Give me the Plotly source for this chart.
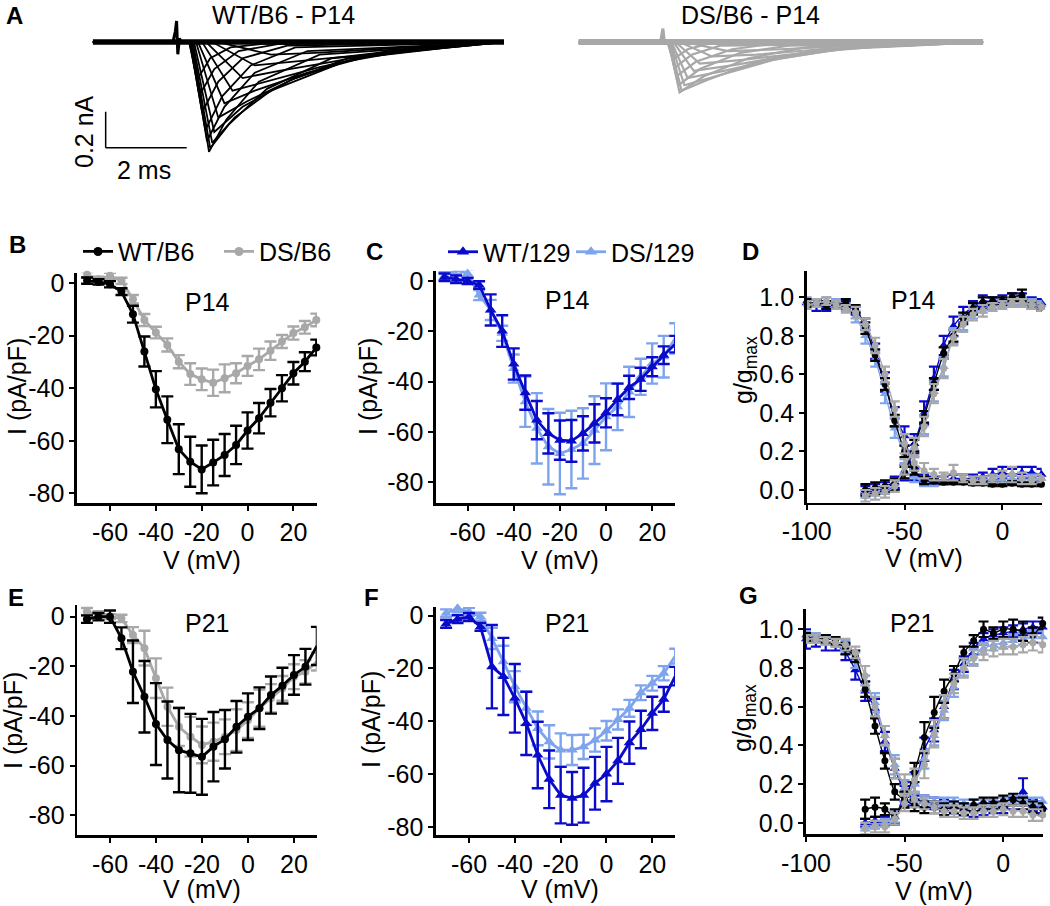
import plotly.graph_objects as go

W, H = 1050, 906
FONT = "Liberation Sans, Arial, sans-serif"
FS = 25

# ---------------- data ----------------
# Panel A: example current traces (time in ms, current in nA)
wt_trace_t = [
    [0, 2.38, 2.60, 2.90, 3.40, 4.20, 10.15],
    [0, 2.38, 2.65, 3.00, 3.60, 4.60, 10.15],
    [0, 2.40, 2.70, 3.10, 3.70, 4.80, 10.15],
    [0, 2.40, 2.78, 3.20, 3.90, 5.00, 10.15],
    [0, 2.42, 2.82, 3.25, 4.00, 5.30, 10.15],
    [0, 2.44, 2.87, 3.30, 4.10, 5.60, 10.15],
    [0, 2.45, 2.90, 3.35, 4.30, 5.90, 10.15],
    [0, 2.47, 2.95, 3.50, 4.40, 6.20, 8.20, 10.15],
    [0, 2.50, 3.00, 3.70, 4.90, 6.30, 8.50, 10.15],
    [0, 2.55, 3.10, 3.80, 5.00, 6.50, 8.80, 10.15],
    [0, 2.60, 3.25, 4.00, 5.30, 6.80, 9.00, 10.15],
    [0, 2.70, 3.45, 4.30, 5.60, 7.00, 9.30, 10.15],
    [0, 2.80, 3.70, 4.60, 5.90, 7.30, 10.15],
    [0, 2.95, 4.00, 5.00, 6.30, 7.80, 10.15],
    [0, 3.10, 4.40, 5.50, 7.00, 10.15],
]
wt_trace_i = [
    [0, 0, -0.20, -0.09, -0.03, -0.01, 0],
    [0, 0, -0.29, -0.15, -0.05, -0.01, 0],
    [0, 0, -0.39, -0.22, -0.09, -0.02, 0],
    [0, 0, -0.49, -0.30, -0.13, -0.03, 0],
    [0, 0, -0.55, -0.36, -0.17, -0.05, 0],
    [0, 0, -0.61, -0.43, -0.22, -0.07, 0],
    [0, 0, -0.59, -0.46, -0.26, -0.09, 0],
    [0, 0, -0.56, -0.42, -0.27, -0.11, -0.03, 0],
    [0, 0, -0.50, -0.36, -0.21, -0.09, -0.03, 0],
    [0, 0, -0.42, -0.33, -0.20, -0.09, -0.03, 0],
    [0, 0, -0.34, -0.27, -0.17, -0.08, -0.02, 0],
    [0, 0, -0.27, -0.22, -0.14, -0.07, -0.02, 0],
    [0, 0, -0.20, -0.16, -0.11, -0.05, 0],
    [0, 0, -0.13, -0.11, -0.08, -0.04, 0],
    [0, 0, -0.07, -0.06, -0.04, 0],
]
wt_artifact_t = [1.98, 2.04, 2.07, 2.10, 2.14, 2.18]
wt_artifact_i = [0, 0.06, 0.117, -0.068, 0.02, 0]
wt_end_t = 10.15

ds_trace_t = [
    [0, 2.20, 2.38, 2.70, 3.20, 10.0],
    [0, 2.20, 2.40, 2.80, 3.50, 10.0],
    [0, 2.22, 2.43, 2.90, 3.80, 4.80, 10.0],
    [0, 2.22, 2.47, 3.00, 4.00, 5.20, 10.0],
    [0, 2.24, 2.50, 3.10, 4.20, 5.60, 10.0],
    [0, 2.25, 2.55, 3.20, 4.40, 6.00, 10.0],
    [0, 2.28, 2.62, 3.40, 4.80, 6.40, 10.0],
    [0, 2.30, 2.70, 3.60, 5.00, 6.80, 10.0],
    [0, 2.35, 2.85, 3.80, 5.30, 7.20, 10.0],
    [0, 2.40, 3.00, 4.00, 5.60, 7.60, 10.0],
    [0, 2.50, 3.30, 4.40, 6.00, 10.0],
    [0, 2.60, 3.70, 5.00, 6.80, 10.0],
]
ds_trace_i = [
    [0, 0, -0.09, -0.04, -0.01, 0],
    [0, 0, -0.14, -0.07, -0.02, 0],
    [0, 0, -0.19, -0.11, -0.04, -0.01, 0],
    [0, 0, -0.24, -0.15, -0.06, -0.02, 0],
    [0, 0, -0.28, -0.19, -0.09, -0.03, 0],
    [0, 0, -0.27, -0.21, -0.11, -0.04, 0],
    [0, 0, -0.24, -0.19, -0.10, -0.04, 0],
    [0, 0, -0.20, -0.16, -0.09, -0.03, 0],
    [0, 0, -0.16, -0.13, -0.07, -0.02, 0],
    [0, 0, -0.12, -0.10, -0.06, -0.02, 0],
    [0, 0, -0.08, -0.07, -0.04, 0],
    [0, 0, -0.05, -0.04, -0.02, 0],
]
ds_artifact_t = [2.03, 2.07, 2.09, 2.12, 2.15]
ds_artifact_i = [0, 0.04, 0.075, 0.01, 0]
ds_end_t = 10.0

scalebar_ms = 2.0
scalebar_na = 0.2

# Panels B, C, E, F: I-V relations (pA/pF)
V_iv = [-70, -65, -60, -55, -50, -45, -40, -35, -30, -25, -20,
        -15, -10, -5, 0, 5, 10, 15, 20, 25, 30]

B_wt = [1.0, 0.5, -0.4, -3.2, -11.8, -26.0, -40.4, -52.0, -63.2, -68.0, -70.9,
        -68.3, -65.4, -61.6, -56.1, -51.4, -45.5, -40.0, -34.3, -29.9, -24.5]
B_wt_err = [1.2, 1.0, 1.2, 1.3, 3.2, 5.7, 6.9, 8.9, 9.5, 9.5, 9.1,
            8.7, 8.0, 7.3, 6.9, 5.8, 5.2, 5.0, 4.3, 3.6, 3.0]
B_ds = [3.2, 1.5, 2.8, 0.9, -6.1, -14.0, -18.8, -23.5, -29.9, -34.6, -36.6,
        -37.9, -36.2, -34.3, -31.5, -29.0, -25.7, -22.2, -19.0, -16.8, -14.0]
B_ds_err = [1.0, 1.0, 1.2, 1.2, 1.6, 2.3, 2.2, 2.5, 2.5, 4.1, 4.1,
            5.0, 5.3, 3.8, 3.8, 4.1, 3.5, 2.5, 2.5, 2.4, 2.4]

C_wt = [1.5, 0.7, 0.0, -1.6, -11.5, -19.9, -33.0, -44.4, -55.3, -60.6, -63.3,
        -63.6, -60.6, -56.6, -52.4, -47.1, -42.3, -39.1, -34.1, -29.5, -25.1]
C_wt_err = [1.5, 1.5, 1.2, 1.5, 6.2, 6.3, 6.2, 6.8, 7.6, 8.0, 7.8,
            8.3, 6.8, 7.6, 5.8, 6.3, 4.6, 4.6, 3.8, 3.5, 3.3]
C_ds = [2.0, 4.4, 3.0, -5.6, -11.5, -20.8, -34.8, -48.0, -58.6, -65.9, -68.6,
        -67.0, -64.6, -59.3, -54.0, -50.0, -44.1, -38.1, -32.8, -30.1, -22.8]
C_ds_err = [1.5, 1.5, 1.5, 2.0, 4.0, 3.0, 5.6, 10.0, 14.0, 15.0, 16.2,
            15.4, 14.0, 13.5, 13.3, 9.3, 10.0, 7.2, 8.0, 8.3, 6.0]

E_wt = [-1.0, 0.0, 0.0, -8.7, -22.2, -32.3, -43.3, -49.7, -53.8, -55.1, -56.5,
        -52.4, -49.4, -44.4, -40.3, -36.9, -31.6, -27.8, -23.5, -20.2, -11.8]
E_wt_err = [1.5, 1.5, 2.5, 4.4, 12.6, 14.4, 16.5, 15.5, 17.0, 15.9, 15.3,
            14.0, 11.8, 10.4, 9.4, 8.4, 7.5, 7.2, 8.0, 7.2, 7.7]
E_ds = [2.0, 0.7, 0.0, -0.7, -7.4, -12.7, -24.8, -36.3, -44.4, -48.4, -51.7,
        -50.4, -48.4, -45.7, -41.7, -36.9, -32.9, -28.9, -24.2, -22.2, -18.1]
E_ds_err = [1.5, 1.5, 1.0, 1.5, 3.2, 7.0, 8.0, 7.7, 7.7, 8.0, 7.4,
            7.7, 7.0, 8.4, 7.2, 7.5, 5.7, 5.0, 5.0, 4.7, 3.6]

F_wt = [-3.1, -1.3, -0.5, -4.2, -19.3, -23.0, -31.3, -40.8, -52.8, -62.0, -68.0,
        -69.2, -68.0, -63.5, -60.0, -55.0, -48.1, -43.1, -37.0, -31.7, -22.9]
F_wt_err = [1.5, 1.5, 1.5, 1.5, 15.8, 14.6, 13.0, 12.0, 12.6, 10.9, 10.7,
            10.0, 10.4, 10.0, 10.3, 8.7, 8.0, 7.1, 6.3, 4.7, 3.5]
F_ds = [0.9, 2.8, 1.5, -0.4, -8.6, -17.4, -26.9, -35.1, -42.7, -47.8, -50.9,
        -50.9, -49.7, -47.1, -43.6, -39.3, -35.1, -29.2, -25.6, -21.8, -15.3]
F_ds_err = [1.5, 1.5, 1.5, 1.5, 4.0, 6.0, 5.9, 6.3, 6.4, 6.3, 6.3,
            5.7, 4.6, 4.4, 3.7, 3.8, 3.2, 2.8, 2.8, 2.7, 2.8]

# Panels D, G: normalized conductance (inactivation & activation)
V_inact = [-100, -95, -90, -85, -80, -75, -70, -65, -60, -55, -50, -45, -40,
           -35, -30, -25, -20, -15, -10, -5, 0, 5, 10, 15, 20]
V_act = [-70, -65, -60, -55, -50, -45, -40, -35, -30, -25, -20,
         -15, -10, -5, 0, 5, 10, 15, 20]

D_inact = {
    "WT/B6": [0.97, 0.97, 0.96, 0.96, 0.97, 0.94, 0.84, 0.70, 0.55, 0.36, 0.20, 0.10, 0.05,
              0.045, 0.04, 0.04, 0.04, 0.035, 0.035, 0.03, 0.03, 0.035, 0.03, 0.03, 0.03],
    "DS/B6": [0.96, 0.97, 0.98, 0.96, 0.94, 0.92, 0.86, 0.75, 0.60, 0.42, 0.24, 0.14, 0.10,
              0.08, 0.07, 0.09, 0.06, 0.05, 0.05, 0.06, 0.07, 0.08, 0.06, 0.05, 0.06],
    "WT/129": [0.97, 0.96, 0.95, 0.96, 0.96, 0.93, 0.86, 0.72, 0.56, 0.38, 0.28, 0.08, 0.06,
               0.05, 0.05, 0.06, 0.06, 0.06, 0.07, 0.08, 0.09, 0.08, 0.09, 0.09, 0.08],
    "DS/129": [0.98, 0.97, 0.98, 0.97, 0.95, 0.90, 0.80, 0.68, 0.50, 0.32, 0.18, 0.07, 0.04,
               0.04, 0.04, 0.04, 0.04, 0.04, 0.05, 0.05, 0.05, 0.06, 0.05, 0.06, 0.06],
}
D_inact_err = {
    "WT/B6": [0.02, 0.02, 0.02, 0.02, 0.02, 0.02, 0.03, 0.03, 0.03, 0.03, 0.03, 0.02, 0.02,
              0.01, 0.01, 0.01, 0.01, 0.01, 0.01, 0.01, 0.01, 0.01, 0.01, 0.01, 0.01],
    "DS/B6": [0.02, 0.02, 0.02, 0.02, 0.02, 0.03, 0.03, 0.04, 0.04, 0.04, 0.05, 0.04, 0.04,
              0.03, 0.02, 0.04, 0.02, 0.02, 0.02, 0.02, 0.03, 0.04, 0.03, 0.02, 0.02],
    "WT/129": [0.02, 0.03, 0.02, 0.02, 0.02, 0.02, 0.03, 0.04, 0.05, 0.05, 0.05, 0.03, 0.02,
               0.02, 0.02, 0.02, 0.02, 0.02, 0.02, 0.03, 0.03, 0.03, 0.03, 0.03, 0.03],
    "DS/129": [0.02, 0.02, 0.02, 0.02, 0.02, 0.03, 0.04, 0.04, 0.05, 0.05, 0.05, 0.03, 0.02,
               0.02, 0.01, 0.01, 0.01, 0.01, 0.02, 0.02, 0.02, 0.02, 0.02, 0.02, 0.02],
}
D_act = {
    "WT/B6": [0.00, 0.01, 0.02, 0.03, 0.09, 0.23, 0.38, 0.55, 0.71, 0.80, 0.89,
              0.94, 0.97, 0.98, 0.98, 1.00, 1.01, 0.96, 0.95],
    "DS/B6": [-0.03, -0.02, -0.01, 0.02, 0.12, 0.22, 0.33, 0.50, 0.63, 0.79, 0.86,
              0.91, 0.93, 0.95, 0.96, 0.97, 0.97, 0.96, 0.95],
    "WT/129": [0.00, 0.01, 0.02, 0.04, 0.09, 0.24, 0.40, 0.58, 0.75, 0.85, 0.91,
               0.95, 0.98, 0.98, 0.99, 1.00, 1.00, 0.98, 0.97],
    "DS/129": [-0.02, -0.01, 0.00, 0.03, 0.10, 0.22, 0.34, 0.51, 0.64, 0.80, 0.87,
               0.92, 0.94, 0.96, 0.97, 0.98, 0.98, 0.97, 0.96],
}
D_act_err = {
    "WT/B6": [0.03, 0.03, 0.03, 0.03, 0.03, 0.03, 0.03, 0.03, 0.03, 0.03, 0.03,
              0.03, 0.03, 0.02, 0.02, 0.02, 0.03, 0.02, 0.02],
    "DS/B6": [0.03, 0.03, 0.03, 0.03, 0.04, 0.05, 0.05, 0.05, 0.05, 0.04, 0.04,
              0.03, 0.03, 0.02, 0.02, 0.02, 0.02, 0.02, 0.02],
    "WT/129": [0.02, 0.02, 0.02, 0.03, 0.04, 0.05, 0.06, 0.06, 0.05, 0.05, 0.04,
               0.03, 0.03, 0.02, 0.02, 0.02, 0.02, 0.02, 0.02],
    "DS/129": [0.02, 0.02, 0.02, 0.03, 0.04, 0.05, 0.05, 0.05, 0.05, 0.04, 0.04,
               0.03, 0.02, 0.02, 0.02, 0.02, 0.02, 0.02, 0.02],
}

G_inact = {
    "WT/B6": [0.96, 0.95, 0.95, 0.94, 0.90, 0.86, 0.69, 0.50, 0.32, 0.16, 0.12, 0.09, 0.08,
              0.08, 0.07, 0.08, 0.07, 0.09, 0.10, 0.10, 0.11, 0.12, 0.10, 0.08, 0.07],
    "DS/B6": [0.95, 0.95, 0.94, 0.93, 0.92, 0.88, 0.76, 0.60, 0.45, 0.28, 0.20, 0.12, 0.10,
              0.08, 0.06, 0.06, 0.05, 0.05, 0.06, 0.06, 0.07, 0.06, 0.06, 0.04, 0.04],
    "WT/129": [0.95, 0.94, 0.93, 0.92, 0.88, 0.79, 0.68, 0.59, 0.42, 0.28, 0.16, 0.12, 0.11,
               0.10, 0.09, 0.08, 0.07, 0.06, 0.07, 0.08, 0.08, 0.10, 0.16, 0.09, 0.08],
    "DS/129": [0.97, 0.96, 0.94, 0.93, 0.91, 0.84, 0.72, 0.62, 0.45, 0.30, 0.18, 0.13, 0.12,
               0.11, 0.11, 0.11, 0.10, 0.10, 0.10, 0.10, 0.11, 0.12, 0.12, 0.11, 0.11],
}
G_inact_err = {
    "WT/B6": [0.02, 0.02, 0.02, 0.02, 0.03, 0.03, 0.04, 0.04, 0.04, 0.04, 0.04, 0.03, 0.03,
              0.03, 0.03, 0.03, 0.03, 0.03, 0.03, 0.03, 0.03, 0.03, 0.03, 0.03, 0.03],
    "DS/B6": [0.02, 0.02, 0.02, 0.02, 0.03, 0.03, 0.05, 0.05, 0.05, 0.05, 0.05, 0.04, 0.03,
              0.03, 0.03, 0.03, 0.03, 0.03, 0.03, 0.03, 0.03, 0.03, 0.03, 0.03, 0.03],
    "WT/129": [0.05, 0.03, 0.04, 0.03, 0.04, 0.05, 0.05, 0.05, 0.05, 0.05, 0.05, 0.03, 0.03,
               0.03, 0.03, 0.03, 0.03, 0.03, 0.03, 0.03, 0.03, 0.03, 0.07, 0.03, 0.03],
    "DS/129": [0.02, 0.02, 0.02, 0.02, 0.03, 0.04, 0.04, 0.05, 0.05, 0.05, 0.04, 0.03, 0.02,
               0.02, 0.02, 0.02, 0.02, 0.02, 0.02, 0.02, 0.02, 0.02, 0.02, 0.02, 0.02],
}
G_act = {
    "WT/B6": [0.07, 0.08, 0.07, 0.03, 0.12, 0.26, 0.44, 0.57, 0.68, 0.77, 0.88,
              0.94, 1.00, 0.98, 1.00, 1.00, 0.99, 0.97, 1.03],
    "DS/B6": [-0.03, -0.02, -0.02, 0.02, 0.10, 0.22, 0.30, 0.46, 0.60, 0.72, 0.80,
              0.85, 0.88, 0.90, 0.91, 0.91, 0.92, 0.93, 0.92],
    "WT/129": [0.00, 0.01, 0.01, 0.03, 0.14, 0.20, 0.38, 0.48, 0.60, 0.74, 0.82,
               0.90, 0.95, 0.97, 0.98, 0.99, 1.00, 1.01, 1.01],
    "DS/129": [-0.02, -0.01, 0.00, 0.03, 0.12, 0.20, 0.33, 0.45, 0.58, 0.70, 0.80,
               0.86, 0.90, 0.92, 0.93, 0.94, 0.95, 0.96, 0.96],
}
G_act_err = {
    "WT/B6": [0.05, 0.05, 0.03, 0.04, 0.04, 0.05, 0.08, 0.08, 0.06, 0.04, 0.03,
              0.03, 0.04, 0.03, 0.04, 0.05, 0.05, 0.04, 0.03],
    "DS/B6": [0.03, 0.03, 0.03, 0.03, 0.04, 0.06, 0.07, 0.07, 0.06, 0.05, 0.05,
              0.04, 0.04, 0.04, 0.04, 0.04, 0.04, 0.04, 0.04],
    "WT/129": [0.02, 0.02, 0.02, 0.03, 0.05, 0.06, 0.06, 0.06, 0.06, 0.05, 0.04,
               0.03, 0.03, 0.03, 0.03, 0.03, 0.03, 0.03, 0.03],
    "DS/129": [0.02, 0.02, 0.02, 0.03, 0.04, 0.05, 0.05, 0.05, 0.05, 0.05, 0.04,
               0.04, 0.03, 0.03, 0.03, 0.03, 0.03, 0.03, 0.03],
}

iv_ticks = [-80, -60, -40, -20, 0]
iv_ticktext = ["-80", "-60", "-40", "-20", "0"]
v_ticks = [-60, -40, -20, 0, 20]
v_ticktext = ["-60", "-40", "-20", "0", "20"]
gv_xticks = [-100, -50, 0]
gv_xticktext = ["-100", "-50", "0"]
g_ticks = [0.0, 0.2, 0.4, 0.6, 0.8, 1.0]
g_ticktext = ["0.0", "0.2", "0.4", "0.6", "0.8", "1.0"]

# ---------------- styling ----------------
COL = {"WT/B6": "#000000", "DS/B6": "#A8A8A8", "WT/129": "#0A0ACB", "DS/129": "#7EA4EE"}
SYM = {"WT/B6": "circle", "DS/B6": "circle", "WT/129": "triangle-up", "DS/129": "triangle-up"}
MSZ = {"circle": 8, "triangle-up": 10}


def xdom(x0, x1):
    return [x0 / W, x1 / W]


def ydom(ytop, ybot):
    return [1 - ybot / H, 1 - ytop / H]


# pixel boxes and ranges of each panel
panels = {
    "B": dict(ax=1, x=(77, 317), y=(272.7, 503), xr=[-74.4, 30.3], yr=[-83.7, 4.0], kind="iv"),
    "C": dict(ax=2, x=(436, 675), y=(270.7, 503.3), xr=[-73.7, 29.9], yr=[-88.4, 4.1], kind="iv"),
    "D": dict(ax=3, x=(806.7, 1041.7), y=(270.7, 502.7), xr=[-100, 20.1], yr=[-0.066, 1.138], kind="gv"),
    "E": dict(ax=4, x=(77.3, 316.7), y=(605, 835), xr=[-74.2, 29.9], yr=[-88.0, 4.7], kind="iv"),
    "F": dict(ax=5, x=(436, 675), y=(607, 835), xr=[-74.4, 29.9], yr=[-83.1, 3.3], kind="iv"),
    "G": dict(ax=6, x=(806, 1043.3), y=(609.3, 834), xr=[-100, 20.3], yr=[-0.058, 1.103], kind="gv"),
}

fig = go.Figure()
layout = dict(
    width=W, height=H, autosize=False,
    margin=dict(l=0, r=0, t=0, b=0, pad=0, autoexpand=False),
    paper_bgcolor="white", plot_bgcolor="white",
    font=dict(family=FONT, size=FS, color="black"),
    showlegend=True,
)

for name, p in panels.items():
    i = p["ax"]
    xa = "xaxis" if i == 1 else f"xaxis{i}"
    ya = "yaxis" if i == 1 else f"yaxis{i}"
    anchor_x = "x" if i == 1 else f"x{i}"
    anchor_y = "y" if i == 1 else f"y{i}"
    if p["kind"] == "iv":
        xt, xtt, yt, ytt = v_ticks, v_ticktext, iv_ticks, iv_ticktext
    else:
        xt, xtt, yt, ytt = gv_xticks, gv_xticktext, g_ticks, g_ticktext
    common = dict(showline=True, linewidth=2.6, linecolor="black", ticks="outside",
                  ticklen=5, tickwidth=2, tickcolor="black", showgrid=False,
                  zeroline=False, mirror=False, tickfont=dict(size=FS, family=FONT),
                  fixedrange=True, automargin=False)
    layout[xa] = dict(domain=xdom(*p["x"]), range=p["xr"], anchor=anchor_y,
                      tickvals=xt, ticktext=xtt, **common)
    layout[ya] = dict(domain=ydom(*p["y"]), range=p["yr"], anchor=anchor_x,
                      tickvals=yt, ticktext=ytt, **common)

# Panel A axes (hidden)
A_ydom = ydom(10, 170)
A_yr = [-0.711, 0.178]
layout["xaxis7"] = dict(domain=xdom(92.7, 504), range=[0, wt_end_t], anchor="y7", visible=False)
layout["yaxis7"] = dict(domain=A_ydom, range=A_yr, anchor="x7", visible=False)
layout["xaxis8"] = dict(domain=xdom(578.3, 983.3), range=[0, ds_end_t], anchor="y8", visible=False)
layout["yaxis8"] = dict(domain=A_ydom, range=A_yr, anchor="x8", visible=False)


def axref(i):
    return ("x" if i == 1 else f"x{i}"), ("y" if i == 1 else f"y{i}")


def add_iv(panel, group, y, err, lw=2.8):
    xr, yr = axref(panels[panel]["ax"])
    sym = SYM[group]
    fig.add_trace(go.Scatter(
        x=V_iv, y=y, mode="lines+markers", name=group,
        line=dict(color=COL[group], width=lw),
        marker=dict(symbol=sym, size=MSZ[sym], color=COL[group]),
        error_y=dict(type="data", array=err, color=COL[group], thickness=2.4, width=6),
        xaxis=xr, yaxis=yr, cliponaxis=False, showlegend=False,
    ))


# I-V panels
add_iv("B", "DS/B6", B_ds, B_ds_err)
add_iv("B", "WT/B6", B_wt, B_wt_err)
add_iv("C", "DS/129", C_ds, C_ds_err)
add_iv("C", "WT/129", C_wt, C_wt_err)
add_iv("E", "DS/B6", E_ds, E_ds_err)
add_iv("E", "WT/B6", E_wt, E_wt_err)
add_iv("F", "DS/129", F_ds, F_ds_err)
add_iv("F", "WT/129", F_wt, F_wt_err)

# legend-only entries (drawn above panels B and C, order matches reference)
for grp, leg, pan in [("WT/B6", "legend", "B"), ("DS/B6", "legend", "B"),
                      ("WT/129", "legend2", "C"), ("DS/129", "legend2", "C")]:
    xr, yr = axref(panels[pan]["ax"])
    sym = SYM[grp]
    fig.add_trace(go.Scatter(
        x=[None], y=[None], mode="lines+markers", name=grp,
        line=dict(color=COL[grp], width=2.8),
        marker=dict(symbol=sym, size=MSZ[sym] + 1, color=COL[grp]),
        xaxis=xr, yaxis=yr, showlegend=True, legend=leg,
    ))


def add_gv(panel, inact, inact_err, act, act_err):
    xr, yr = axref(panels[panel]["ax"])
    for grp in ["WT/129", "DS/129", "WT/B6", "DS/B6"]:
        sym = SYM[grp]
        for vx, vy, ve in [(V_inact, inact[grp], inact_err[grp]), (V_act, act[grp], act_err[grp])]:
            fig.add_trace(go.Scatter(
                x=vx, y=vy, mode="lines+markers",
                line=dict(color=COL[grp], width=1.4, shape="spline", smoothing=0.6),
                marker=dict(symbol=sym, size=MSZ[sym] - 1, color=COL[grp]),
                error_y=dict(type="data", array=ve, color=COL[grp], thickness=2.2, width=5),
                xaxis=xr, yaxis=yr, cliponaxis=False, showlegend=False,
            ))


add_gv("D", D_inact, D_inact_err, D_act, D_act_err)
add_gv("G", G_inact, G_inact_err, G_act, G_act_err)

# Panel A traces
for tt, ii in zip(wt_trace_t, wt_trace_i):
    fig.add_trace(go.Scatter(x=tt, y=ii, mode="lines", line=dict(color="black", width=1.8),
                             xaxis="x7", yaxis="y7", showlegend=False, hoverinfo="skip"))
fig.add_trace(go.Scatter(x=[0, wt_end_t], y=[0, 0], mode="lines",
                         line=dict(color="black", width=5.5),
                         xaxis="x7", yaxis="y7", showlegend=False, hoverinfo="skip"))
fig.add_trace(go.Scatter(x=wt_artifact_t, y=wt_artifact_i, mode="lines",
                         line=dict(color="black", width=3),
                         xaxis="x7", yaxis="y7", showlegend=False, hoverinfo="skip"))
for tt, ii in zip(ds_trace_t, ds_trace_i):
    fig.add_trace(go.Scatter(x=tt, y=ii, mode="lines", line=dict(color="#A8A8A8", width=2.2),
                             xaxis="x8", yaxis="y8", showlegend=False, hoverinfo="skip"))
fig.add_trace(go.Scatter(x=[0, ds_end_t], y=[0, 0], mode="lines",
                         line=dict(color="#A8A8A8", width=6),
                         xaxis="x8", yaxis="y8", showlegend=False, hoverinfo="skip"))
fig.add_trace(go.Scatter(x=ds_artifact_t, y=ds_artifact_i, mode="lines",
                         line=dict(color="#A8A8A8", width=3),
                         xaxis="x8", yaxis="y8", showlegend=False, hoverinfo="skip"))

# scale bar (in trace units: ms and nA)
sb_t0 = 0.32
sb_i0 = -0.587
layout["shapes"] = [
    dict(type="line", xref="x7", yref="y7", x0=sb_t0, x1=sb_t0, y0=sb_i0, y1=sb_i0 + scalebar_na,
         line=dict(color="black", width=1.5)),
    dict(type="line", xref="x7", yref="y7", x0=sb_t0, x1=sb_t0 + scalebar_ms, y0=sb_i0, y1=sb_i0,
         line=dict(color="black", width=1.5)),
]

# legends
layout["legend"] = dict(orientation="h", x=78 / W, y=1 - 251.7 / H, xanchor="left", yanchor="middle",
                        font=dict(size=FS, family=FONT), bgcolor="rgba(0,0,0,0)",
                        itemwidth=30, entrywidth=96, entrywidthmode="pixels", tracegroupgap=0)
layout["legend2"] = dict(orientation="h", x=443 / W, y=1 - 252 / H, xanchor="left", yanchor="middle",
                         font=dict(size=FS, family=FONT), bgcolor="rgba(0,0,0,0)",
                         itemwidth=30, entrywidth=83, entrywidthmode="pixels", tracegroupgap=0)


# annotations (pixel positions converted to paper)
def ann(text, x, y, size=FS, angle=0, bold=False):
    return dict(text=f"<b>{text}</b>" if bold else text, x=x / W, y=1 - y / H,
                xref="paper", yref="paper", xanchor="center", yanchor="middle",
                showarrow=False, textangle=angle, font=dict(size=size, family=FONT, color="black"))


annots = [
    ann("A", 14, 16, 24, bold=True), ann("B", 17, 245, 24, bold=True),
    ann("C", 374, 252, 24, bold=True), ann("D", 750, 252, 24, bold=True),
    ann("E", 16, 597, 24, bold=True), ann("F", 371, 597, 24, bold=True),
    ann("G", 748, 595, 24, bold=True),
    ann("WT/B6 - P14", 283, 14.5), ann("DS/B6 - P14", 750, 14.5),
    ann("0.2 nA", 84, 132, angle=-90), ann("2 ms", 144, 170),
    ann("P14", 207, 302), ann("P14", 567, 300), ann("P14", 913, 300),
    ann("P21", 207, 623), ann("P21", 567, 623), ann("P21", 912, 623),
    ann("I (pA/pF)", 17, 387, angle=-90), ann("I (pA/pF)", 368, 387, angle=-90),
    ann("I (pA/pF)", 13, 721, angle=-90), ann("I (pA/pF)", 371, 720, angle=-90),
    ann("g/g<sub>max</sub>", 745, 370, angle=-90), ann("g/g<sub>max</sub>", 744, 718, angle=-90),
    ann("V (mV)", 202, 560), ann("V (mV)", 560, 560), ann("V (mV)", 924, 558),
    ann("V (mV)", 202, 889), ann("V (mV)", 560, 889), ann("V (mV)", 934, 891),
]
layout["annotations"] = annots

fig.update_layout(**layout)

fig.write_html("out.html", config={"displayModeBar": False, "staticPlot": True},
               post_script="document.body.style.margin='0';document.body.style.overflow='hidden';")
